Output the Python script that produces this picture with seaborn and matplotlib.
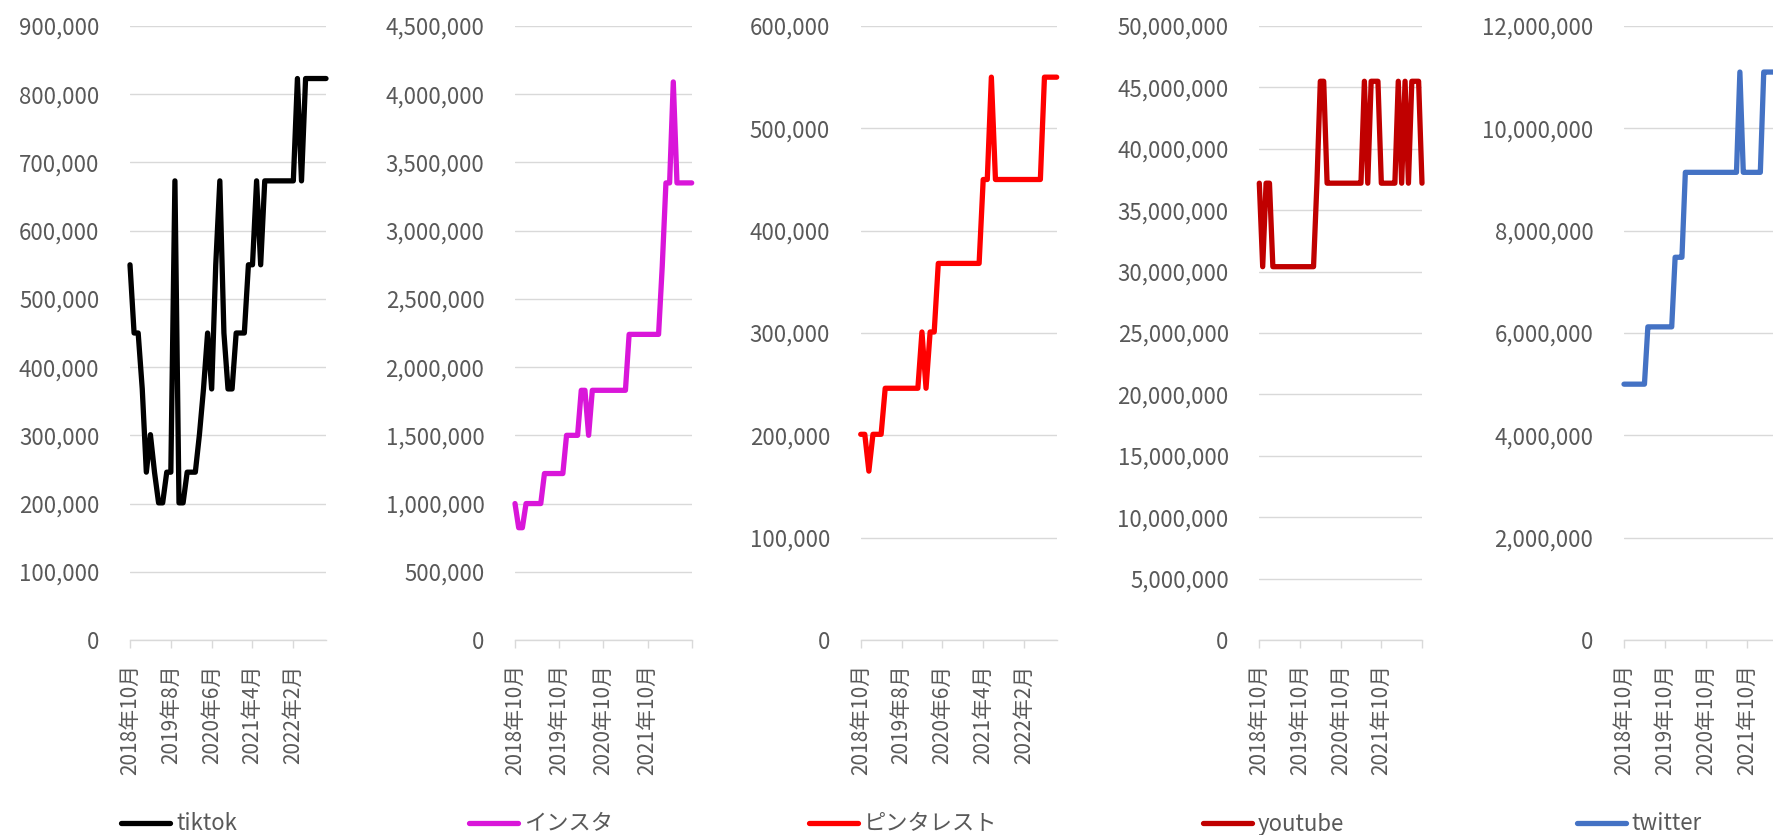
import matplotlib
matplotlib.use('Agg')
import matplotlib.pyplot as plt
import matplotlib.transforms as mtransforms
import pandas as pd
import seaborn as sns

# 月次データ 2018年10月〜2022年10月
months = pd.date_range('2018-10-01', periods=49, freq='MS')
month_labels = [f'{d.year}年{d.month}月' for d in months]

tiktok = [550000, 450000, 450000, 368000, 246000, 301000, 246000, 201000, 201000, 246000,
          246000, 673000, 201000, 201000, 246000, 246000, 246000, 301000, 368000, 450000,
          368000, 550000, 673000, 450000, 368000, 368000, 450000, 450000, 450000, 550000,
          550000, 673000, 550000, 673000, 673000, 673000, 673000, 673000, 673000, 673000,
          673000, 823000, 673000, 823000, 823000, 823000, 823000, 823000, 823000]
insta = [1000000, 823000, 823000, 1000000, 1000000, 1000000, 1000000, 1000000, 1220000, 1220000,
         1220000, 1220000, 1220000, 1220000, 1500000, 1500000, 1500000, 1500000, 1830000, 1830000,
         1500000, 1830000, 1830000, 1830000, 1830000, 1830000, 1830000, 1830000, 1830000, 1830000,
         1830000, 2240000, 2240000, 2240000, 2240000, 2240000, 2240000, 2240000, 2240000, 2240000,
         2740000, 3350000, 3350000, 4090000, 3350000, 3350000, 3350000, 3350000, 3350000]
pinterest = [201000, 201000, 165000, 201000, 201000, 201000, 246000, 246000, 246000, 246000,
             246000, 246000, 246000, 246000, 246000, 301000, 246000, 301000, 301000, 368000,
             368000, 368000, 368000, 368000, 368000, 368000, 368000, 368000, 368000, 368000,
             450000, 450000, 550000, 450000, 450000, 450000, 450000, 450000, 450000, 450000,
             450000, 450000, 450000, 450000, 450000, 550000, 550000, 550000, 550000]
youtube = [37200000, 30400000, 37200000, 37200000, 30400000, 30400000, 30400000, 30400000, 30400000, 30400000,
           30400000, 30400000, 30400000, 30400000, 30400000, 30400000, 30400000, 37200000, 45500000, 45500000,
           37200000, 37200000, 37200000, 37200000, 37200000, 37200000, 37200000, 37200000, 37200000, 37200000,
           37200000, 45500000, 37200000, 45500000, 45500000, 45500000, 37200000, 37200000, 37200000, 37200000,
           37200000, 45500000, 37200000, 45500000, 37200000, 45500000, 45500000, 45500000, 37200000]
twitter = [5000000, 5000000, 5000000, 5000000, 5000000, 5000000, 5000000, 6120000, 6120000, 6120000,
           6120000, 6120000, 6120000, 6120000, 6120000, 7480000, 7480000, 7480000, 9140000, 9140000,
           9140000, 9140000, 9140000, 9140000, 9140000, 9140000, 9140000, 9140000, 9140000, 9140000,
           9140000, 9140000, 9140000, 9140000, 11100000, 9140000, 9140000, 9140000, 9140000, 9140000,
           9140000, 11100000, 11100000, 11100000, 11100000, 11100000, 11100000, 11100000, 11100000]

names = ['tiktok', 'インスタ', 'ピンタレスト', 'youtube', 'twitter']
series = [tiktok, insta, pinterest, youtube, twitter]
colors = ['#000000', '#D916D9', '#FF0000', '#C00000', '#4472C4']
y_max = [900000, 4500000, 600000, 50000000, 12000000]
y_step = [100000, 500000, 100000, 5000000, 2000000]
tick_every = [10, 12, 10, 12, 12]

# レイアウト（ピクセル）
W, H = 1774, 835
panel_x = [(130, 326), (515, 691.7), (860.7, 1056.7), (1259.3, 1422), (1624, 1787.6)]
plot_top, plot_bottom = 26, 640
legend_x = [121.5, 469.3, 809, 1203.3, 1577]
legend_y = 824

sns.set_theme(style='white')
plt.rcParams['font.family'] = ['Noto Sans CJK JP', 'DejaVu Sans']
FS = 16
GRAY = '#595959'
GRID = '#d9d9d9'

fig = plt.figure(figsize=(W / 100, H / 100), dpi=100)
shift = mtransforms.ScaledTranslation(6 / 100, 0, fig.dpi_scale_trans)

for k in range(5):
    x0, x1 = panel_x[k]
    ax = fig.add_axes([x0 / W, (H - plot_bottom) / H, (x1 - x0) / W, (plot_bottom - plot_top) / H])
    df = pd.DataFrame({'idx': range(len(months)), 'value': series[k]})
    sns.lineplot(data=df, x='idx', y='value', ax=ax, color=colors[k], linewidth=3.8,
                 label=names[k], solid_capstyle='round', solid_joinstyle='round', clip_on=False)

    ax.set_xlim(0, len(months) - 1)
    ax.set_ylim(0, y_max[k])
    ax.set_yticks(range(0, y_max[k] + 1, y_step[k]))
    ax.set_yticklabels([f'{v:,}' for v in range(0, y_max[k] + 1, y_step[k])])
    ticks = list(range(0, len(months), tick_every[k]))
    ax.set_xticks(ticks)
    ax.set_xticklabels([month_labels[i] if i < len(months) - 1 else '' for i in ticks], rotation=90)
    for lab in ax.get_xticklabels():
        lab.set_transform(lab.get_transform() + shift)
    ax.set_xlabel('')
    ax.set_ylabel('')

    ax.yaxis.grid(True, color=GRID, linewidth=1.0)
    ax.set_axisbelow(True)
    for s in ['top', 'right', 'left']:
        ax.spines[s].set_visible(False)
    ax.spines['bottom'].set_color(GRID)
    ax.spines['bottom'].set_linewidth(1.0)
    ax.tick_params(axis='y', length=0, pad=22, labelsize=FS, labelcolor=GRAY)
    ax.tick_params(axis='x', length=5.5, width=1.0, color=GRID, direction='out',
                   pad=12, labelsize=15, labelcolor=GRAY, bottom=True)

    leg = ax.legend(loc='center left', bbox_to_anchor=(legend_x[k] / W, (H - legend_y) / H),
                    bbox_transform=fig.transFigure, frameon=False, fontsize=FS,
                    handlelength=2.2, handletextpad=0.25, borderpad=0, borderaxespad=0)
    for t in leg.get_texts():
        t.set_color(GRAY)

fig.savefig('out.png', dpi=100)
